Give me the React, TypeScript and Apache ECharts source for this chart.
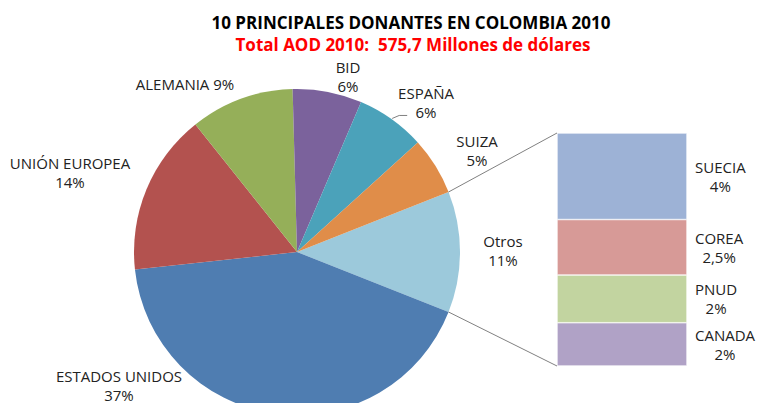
import React, { useEffect, useRef } from "react";
import * as echarts from "echarts";

const TITLE = "10 PRINCIPALES DONANTES EN COLOMBIA 2010";
const SUBTITLE = "Total AOD 2010:  575,7 Millones de dólares";

// Breakdown of "Otros" (top to bottom in the bar)
const otherNames = ["SUECIA", "COREA", "PNUD", "CANADA"];
const otherValues = [3.9, 2.5, 2.15, 1.95];
const otherLabels = ["4%", "2,5%", "2%", "2%"];
const otherColors = ["#9DB2D6", "#D79A97", "#C2D4A0", "#B0A2C6"];

// Pie (clockwise from the "Otros" slice)
const pieNames = ["Otros", "ESTADOS UNIDOS", "UNIÓN EUROPEA", "ALEMANIA", "BID", "ESPAÑA", "SUIZA"];
const pieMainValues = [37, 14, 9, 6, 6, 5];
const pieLabels = ["11%", "37%", "14%", "9%", "6%", "6%", "5%"];
const pieColors = ["#9CC9DB", "#4F7DB1", "#B3524F", "#95AF59", "#7B629C", "#4BA2BA", "#E08D49"];

// Layout constants
const W = 757;
const H = 403;
const PIE_CX = 297;
const PIE_CY = 252;
const PIE_R = 163;
const BAR_LEFT = 557;
const BAR_TOP = 133;
const BAR_W = 130;
const BAR_H = 233;
const FONT = '"Open Sans", sans-serif';
const LABEL_POS: [number, number][] = [
  [503, 250],
  [119, 385],
  [70, 172],
  [185, 84],
  [348, 76],
  [426, 102],
  [477, 150],
];

export default function App() {
  const ref = useRef<HTMLDivElement>(null);

  useEffect(() => {
    if (!ref.current) return;
    const chart = echarts.init(ref.current, undefined, { renderer: "svg" });

    const otrosTotal = otherValues.reduce((a, b) => a + b, 0);
    const pieValues = [otrosTotal, ...pieMainValues];
    const pieTotal = pieValues.reduce((a, b) => a + b, 0);
    const halfOtros = (360 * otrosTotal) / pieTotal / 2;
    const rad = (halfOtros * Math.PI) / 180;
    const topPt = [PIE_CX + PIE_R * Math.cos(rad), PIE_CY - PIE_R * Math.sin(rad)];
    const botPt = [PIE_CX + PIE_R * Math.cos(rad), PIE_CY + PIE_R * Math.sin(rad)];

    // mid angles of slices (math convention, degrees)
    const midAngles: number[] = [];
    let acc = 0;
    pieValues.forEach((v) => {
      midAngles.push(halfOtros - (360 * (acc + v / 2)) / pieTotal);
      acc += v;
    });
    const espIdx = pieNames.indexOf("ESPAÑA");
    const ea = (midAngles[espIdx] * Math.PI) / 180;
    const ex = PIE_CX + (PIE_R + 1) * Math.cos(ea);
    const ey = PIE_CY - (PIE_R + 1) * Math.sin(ea);

    const barSeries = otherNames
      .map((name, i) => ({
        name,
        type: "bar" as const,
        stack: "otros",
        barWidth: "100%",
        data: [otherValues[i]],
        itemStyle: { color: otherColors[i], borderColor: "#ffffff", borderWidth: 0.6 },
        label: {
          show: true,
          position: "right" as const,
          distance: 8,
          formatter: `{c|${name}}\n{c|${otherLabels[i]}}`,
          rich: {
            c: { align: "center", fontSize: 15, lineHeight: 19, fontFamily: FONT, color: "#222" },
          },
        },
      }))
      .reverse();

    chart.setOption({
      animation: false,
      backgroundColor: "#ffffff",
      title: [
        {
          text: TITLE,
          left: 406,
          top: 8,
          textAlign: "center",
          textStyle: { fontFamily: FONT, fontSize: 17, fontWeight: "bold", color: "#000", lineHeight: 18 },
        },
        {
          text: SUBTITLE,
          left: 408,
          top: 30,
          textAlign: "center",
          textStyle: { fontFamily: FONT, fontSize: 17, fontWeight: "bold", color: "#FF0000", lineHeight: 18 },
        },
      ],
      grid: { left: BAR_LEFT, top: BAR_TOP, width: BAR_W, height: BAR_H, containLabel: false },
      xAxis: { type: "category", data: ["Otros"], show: false },
      yAxis: { type: "value", min: 0, max: otrosTotal, show: false },
      graphic: [
        {
          type: "line",
          shape: { x1: topPt[0], y1: topPt[1], x2: BAR_LEFT, y2: BAR_TOP },
          style: { stroke: "#808080", lineWidth: 1 },
          z: 10,
        },
        {
          type: "line",
          shape: { x1: botPt[0], y1: botPt[1], x2: BAR_LEFT, y2: BAR_TOP + BAR_H },
          style: { stroke: "#808080", lineWidth: 1 },
          z: 10,
        },
        {
          type: "polyline",
          shape: {
            points: [
              [ex, ey],
              [ex + 7, ey - 3],
              [ex + 15, ey - 3],
            ],
          },
          style: { stroke: "#808080", lineWidth: 1, fill: null },
          z: 10,
        },
      ],
      series: [
        {
          type: "pie",
          center: [PIE_CX, PIE_CY],
          radius: PIE_R,
          startAngle: halfOtros,
          clockwise: true,
          avoidLabelOverlap: false,
          labelLine: { show: false },
          data: pieNames.map((name, i) => ({
            name,
            value: pieValues[i],
            itemStyle: { color: pieColors[i] },
          })),
          label: {
            show: true,
            position: "outside",
            fontFamily: FONT,
            fontSize: 15,
            lineHeight: 19,
            color: "#222",
            formatter: (p: any) =>
              p.name === "ALEMANIA" ? `${p.name} ${pieLabels[p.dataIndex]}` : `${p.name}\n${pieLabels[p.dataIndex]}`,
          },
          labelLayout: (p: any) => {
            const pos = LABEL_POS[p.dataIndex];
            return { x: pos[0], y: pos[1], align: "center", verticalAlign: "middle" };
          },
        },
        ...barSeries,
      ],
    });

    return () => chart.dispose();
  }, []);

  return (
    <div
      ref={ref}
      style={{ position: "absolute", left: 0, top: 0, width: W, height: H, background: "#fff" }}
    />
  );
}
